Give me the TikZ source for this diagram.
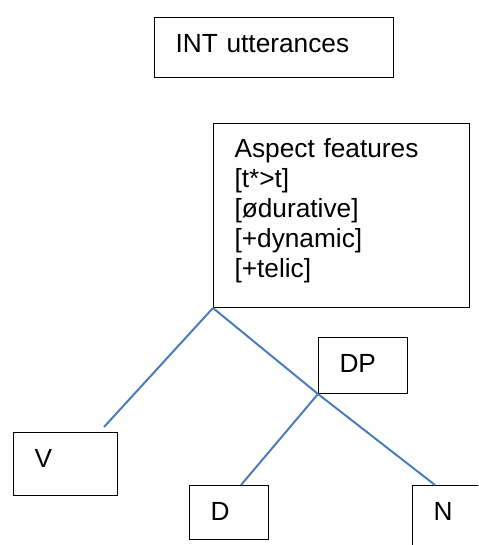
\documentclass[tikz,border=0pt]{standalone}
\usepackage{fontspec}
\setmainfont{Liberation Sans}
\definecolor{branchblue}{RGB}{74,126,187}
\begin{document}
\begin{tikzpicture}[x=0.75pt,y=-0.75pt,
	box/.style={draw,line width=0.75pt,anchor=north west,align=left,inner xsep=15.75pt,inner ysep=0pt,text height=26.25pt,font=\fontsize{19.7}{22.5}\selectfont},
	branch/.style={draw=branchblue,line width=1.5pt}]
	  \clip (0,0) rectangle (478,545);

	  \node[box,text width=147.75pt,text depth=18.75pt] (int) at (154,17) {INT utterances};
	  \node[box,text width=160.5pt,text height=25.5pt,text depth=112.5pt] (asp) at (213,123) {Aspect features\\{}[t*>t]\\{}[ødurative]\\{}[+dynamic]\\{}[+telic]};
	  \node[box,text width=35.25pt,text depth=15.75pt] (dp) at (318,337) {DP};
	  \node[box,text width=46.5pt,text depth=21pt] (v) at (13,432) {V};
	  \node[box,text width=27.75pt,text depth=14.25pt] (d) at (189,485) {D};
	  \node[box,text width=45pt,text depth=33.75pt] (n) at (412,485) {N};

	  \coordinate (vend) at ([shift={(-14,-5)}]v.north east);
	  \coordinate (dend) at ([shift={(52,0)}]d.north west);
	  \coordinate (nend) at ([shift={(23,0)}]n.north west);

	  \draw[branch] (asp.south west) -- (vend);
	  \draw[branch] (asp.south west) -- (dp.south west) -- (nend);
	  \draw[branch] (dp.south west) -- (dend);
	\end{tikzpicture}
\end{document}
